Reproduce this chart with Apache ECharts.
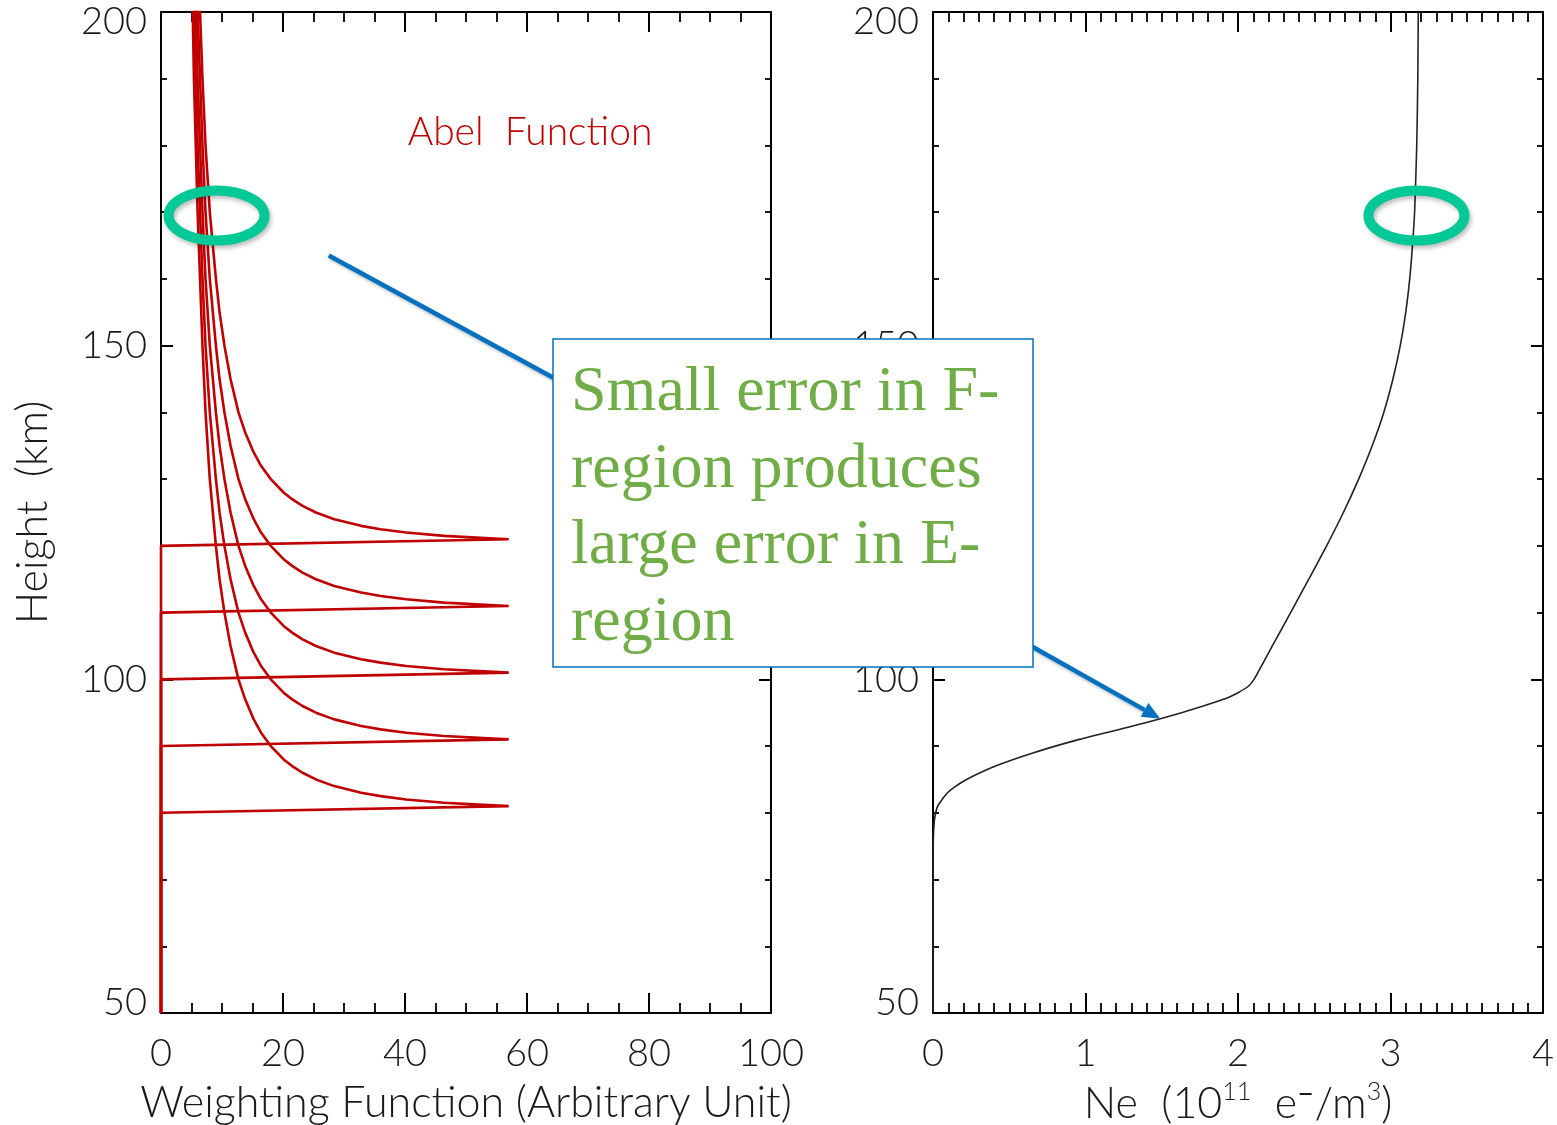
<!DOCTYPE html>
<html>
<head>
<meta charset="utf-8">
<script src="https://cdn.jsdelivr.net/npm/echarts@6/dist/echarts.min.js"></script>
<style>
html,body{margin:0;padding:0;background:#fff;}
#chart{width:1557px;height:1125px;}
</style>
</head>
<body>
<div id="chart"></div>
<script>
// tangent heights of the Abel weighting functions (km)
var TANGENT_HEIGHTS=[80,90,100,110,120];
// height above the tangent point (km) and weight
var WEIGHT_OFFSETS=[1,1.5,2,2.5,3,4,5,6,7,8,10,12,14,17,20,25,30,35,40,50,60,70,80,90,100,110,120];
var WEIGHT_VALUES=[57,46.4,40.2,36,32.8,28.4,25.4,23.2,21.5,20.1,18,16.4,15.2,13.8,12.7,11.4,10.4,9.6,9,8,7.3,6.8,6.4,6,5.7,5.4,5.2];
// electron density profile (right panel)
var NE_HEIGHTS=[50,70,76,78,79,80,81,82,83,84,85,87,89,91,93,95,97,98,99,100,101,105,110,115,120,125,130,135,140,145,150,155,160,165,170,180,190,200];
var NE_VALUES=[0,0,0.002,0.006,0.01,0.018,0.03,0.06,0.095,0.15,0.22,0.41,0.66,0.96,1.31,1.63,1.905,2.0,2.07,2.105,2.13,2.225,2.345,2.464,2.581,2.691,2.791,2.88,2.956,3.016,3.064,3.1,3.126,3.144,3.158,3.172,3.179,3.182];
// tick labels
var LEFT_X_TICKS=[0,20,40,60,80,100];
var RIGHT_X_TICKS=[0,1,2,3,4];
var Y_TICKS=[50,100,150,200];

var LABEL_FONT={fontFamily:'Lato',fontWeight:300,fontSize:38,color:'#1a1a1a'};
var NAME_FONT={fontFamily:'Lato',fontWeight:300,fontSize:43,color:'#1a1a1a',lineHeight:44};

//坐标轴通用样式
function axisBase(ticks,minorSplit,majorLen,minorLen){
    return {
        type:'value',
        min:ticks[0],
        max:ticks[ticks.length-1],
        interval:ticks[1]-ticks[0],
        axisLine:{show:true,onZero:false,lineStyle:{color:'#000',width:2}},
        axisTick:{show:true,inside:true,length:majorLen,lineStyle:{color:'#000',width:2}},
        minorTick:{show:true,splitNumber:minorSplit,length:minorLen,lineStyle:{color:'#000',width:1.8}},
        splitLine:{show:false},
        axisLabel:{show:false}
    };
}
function xAxisFor(grid,pos,ticks,minorSplit,name){
    var a=axisBase(ticks,minorSplit,20,10);
    a.gridIndex=grid;
    a.position=pos;
    if(pos=='bottom'){
        a.axisLabel=Object.assign({show:true,margin:22,lineHeight:38},LABEL_FONT);
        a.name=name;
        a.nameLocation='middle';
        a.nameGap=68;
        a.nameTextStyle=Object.assign({rich:{
            t:Object.assign({},NAME_FONT),
            sup:{fontFamily:'Lato',fontWeight:300,fontSize:25,color:'#1a1a1a',lineHeight:44,padding:[0,0,24,0]},
            minus:{fontFamily:'Lato',fontWeight:400,fontSize:30,color:'#1a1a1a',lineHeight:44,padding:[0,0,22,0]}
        }},NAME_FONT);
    }
    return a;
}
function yAxisFor(grid,pos,name){
    var a=axisBase(Y_TICKS,5,12,6);
    a.gridIndex=grid;
    a.position=pos;
    if(pos=='left'){
        a.axisLabel=Object.assign({show:true,margin:14,lineHeight:20,
            verticalAlignMaxLabel:'top',verticalAlignMinLabel:'bottom'},LABEL_FONT);
        if(name){
            a.name=name;
            a.nameLocation='middle';
            a.nameGap=106;
            a.nameRotate=90;
            a.nameTextStyle=Object.assign({},NAME_FONT);
        }
    }
    return a;
}

//左图:Abel 权重函数
var seriesList=[];
for(var i=0;i<TANGENT_HEIGHTS.length;i++){
    var h0=TANGENT_HEIGHTS[i];
    var pts=[[0,Y_TICKS[0]],[0,h0]];
    for(var j=0;j<WEIGHT_OFFSETS.length;j++){
        pts.push([WEIGHT_VALUES[j],h0+WEIGHT_OFFSETS[j]]);
    }
    seriesList.push({
        type:'line',xAxisIndex:0,yAxisIndex:0,data:pts,
        symbol:'none',silent:true,clip:true,
        lineStyle:{color:'#c00000',width:2.6}
    });
}
//右图:电子密度
var nePts=[];
for(var k=0;k<NE_HEIGHTS.length;k++){
    nePts.push([NE_VALUES[k],NE_HEIGHTS[k]]);
}
seriesList.push({
    type:'line',xAxisIndex:2,yAxisIndex:2,data:nePts,
    symbol:'none',silent:true,smooth:0.25,
    lineStyle:{color:'#222',width:1.6}
});

var option={
    animation:false,
    backgroundColor:'#fff',
    grid:[
        {left:161,top:12,width:610,height:1001,outerBoundsMode:'none',containLabel:false},
        {left:933,top:12,width:610,height:1001,outerBoundsMode:'none',containLabel:false}
    ],
    xAxis:[
        xAxisFor(0,'bottom',LEFT_X_TICKS,4,'Weighting Function (Arbitrary Unit)'),
        xAxisFor(0,'top',LEFT_X_TICKS,4),
        xAxisFor(1,'bottom',RIGHT_X_TICKS,10,'{t|Ne  (10}{sup|11}{t|  e}{minus|–}{t|/m}{sup|3}{t|)}'),
        xAxisFor(1,'top',RIGHT_X_TICKS,10)
    ],
    yAxis:[
        yAxisFor(0,'left','Height  (km)'),
        yAxisFor(0,'right'),
        yAxisFor(1,'left'),
        yAxisFor(1,'right')
    ],
    series:seriesList
};

var chart=echarts.init(document.getElementById('chart'));
chart.setOption(option);

//标注:椭圆、箭头、文本框
function leftPx(p){return chart.convertToPixel({xAxisIndex:0,yAxisIndex:0},p);}
function rightPx(p){return chart.convertToPixel({xAxisIndex:2,yAxisIndex:2},p);}

var ringStyle={stroke:'#00c896',lineWidth:10,fill:'none',
    shadowBlur:4,shadowOffsetX:2,shadowOffsetY:3,shadowColor:'rgba(0,0,0,0.25)'};
var blueStyle={stroke:'#0070c0',lineWidth:4.5,
    shadowBlur:3,shadowOffsetX:1,shadowOffsetY:2,shadowColor:'rgba(0,0,0,0.25)'};

var abelPos=leftPx([60.5,182]);
var ringL=leftPx([9.1,169.5]);
var ringR=rightPx([3.17,169.5]);
var lineStart=leftPx([27.5,163.5]);
var tip=rightPx([1.49,94.1]);

var box={x:553,y:339,w:480,h:328};
var arrowStart=[box.x+box.w-2,646];
var dx=tip[0]-arrowStart[0],dy=tip[1]-arrowStart[1];
var len=Math.sqrt(dx*dx+dy*dy);
var ux=dx/len,uy=dy/len;
var base=[tip[0]-18*ux,tip[1]-18*uy];

chart.setOption({
    graphic:[
        {type:'text',z:50,x:abelPos[0],y:abelPos[1],style:{text:'Abel  Function',fill:'#c00000',
            fontFamily:'Lato',fontWeight:300,fontSize:39,align:'center',verticalAlign:'middle'}},
        {type:'ellipse',z:60,shape:{cx:ringL[0],cy:ringL[1],rx:48,ry:25},style:ringStyle},
        {type:'ellipse',z:60,shape:{cx:ringR[0],cy:ringR[1],rx:48,ry:25},style:ringStyle},
        {type:'line',z:70,shape:{x1:lineStart[0],y1:lineStart[1],x2:box.x+10,y2:383},style:blueStyle},
        {type:'line',z:70,shape:{x1:arrowStart[0],y1:arrowStart[1],x2:base[0],y2:base[1]},style:blueStyle},
        {type:'polygon',z:70,shape:{points:[tip,[base[0]+8*uy,base[1]-8*ux],[base[0]-8*uy,base[1]+8*ux]]},
            style:{fill:'#0070c0'}},
        {type:'rect',z:80,shape:{x:box.x,y:box.y,width:box.w,height:box.h},
            style:{fill:'#fff',stroke:'#0070c0',lineWidth:1.5}},
        {type:'text',z:90,x:571,y:355,style:{
            text:'Small error in F-\nregion produces\nlarge error in E-\nregion',
            fill:'#70ad47',fontFamily:'Liberation Serif',fontSize:64,lineHeight:76.5,
            align:'left',verticalAlign:'top'}}
    ]
});
</script>
</body>
</html>
